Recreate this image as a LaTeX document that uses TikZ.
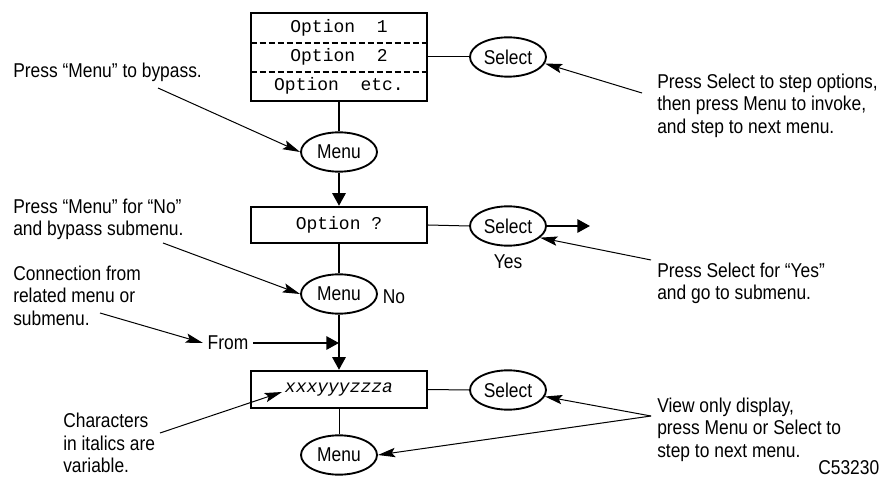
\documentclass[tikz,border=0pt]{standalone}
\usepackage{fontspec}
\setmainfont{Liberation Sans}[FakeStretch=0.87]
\newfontfamily\dispfont{Liberation Mono}
\usetikzlibrary{arrows.meta,shapes.geometric}

\begin{document}
\begin{tikzpicture}[x=0.75pt, y=-0.75pt,
  every node/.style={font=\fontsize{15}{16.8}\selectfont},
  optrow/.style={minimum width=132pt, minimum height=22pt, inner sep=0pt, font=\dispfont\fontsize{13.5}{16}\selectfont},
  dispbox/.style={draw, line width=1.8pt, minimum width=132pt, inner sep=0pt, font=\dispfont\fontsize{13.5}{16}\selectfont},
  keyoval/.style={draw, ellipse, line width=1.4pt, minimum width=57pt, minimum height=29.5pt, inner sep=0pt},
  note/.style={align=left, anchor=north west, inner sep=0pt},
  flow/.style={line width=1.5pt, -{Triangle[length=9.5pt,width=10pt]}},
  link/.style={line width=1.5pt},
  wire/.style={line width=0.75pt},
  callout/.style={line width=0.75pt, -{Stealth[length=13pt,width=7pt,inset=2.5pt]}}]
  \useasboundingbox (0,0) rectangle (885,477);

  % option list display
  \node[optrow] (opt1) at (339,27.7) {Option\ \ 1};
  \node[optrow] (opt2) at (339,57) {Option\ \ 2};
  \node[optrow] (opt3) at (339,86.3) {Option\ \ etc.};
  \draw[line width=1.8pt] (opt1.north west) rectangle (opt3.south east);
  \draw[line width=1.5pt, dash pattern=on 4.5pt off 2.25pt] (opt1.south west) -- (opt1.south east);
  \draw[line width=1.5pt, dash pattern=on 4.5pt off 2.25pt] (opt2.south west) -- (opt2.south east);

  % keys and displays
  \node[keyoval] (selA) at (508,57) {Select};
  \node[keyoval] (menuA) at (339,152) {Menu};
  \node[dispbox, minimum height=27pt] (optq) at (339,225) {Option ?};
  \node[keyoval] (selB) at (508,226) {Select};
  \node[keyoval] (menuB) at (339,294) {Menu};
  \node[dispbox, minimum height=27.75pt] (varbox) at (339,389.5) {\itshape xxxyyyzzza};
  \node[keyoval] (selC) at (508,390) {Select};
  \node[keyoval] (menuC) at (339,455) {Menu};

  % small labels
  \node (yes) at (508,262) {Yes};
  \node (no) at (394,296.5) {No};
  \node (from) at (228,343) {From};
  \node[anchor=base west, inner sep=0pt] (figId) at (818,474) {C53230};

  % notes
  \node[anchor=base west, inner sep=0pt] (bypassTxt) at (13,78) {Press “Menu” to bypass.};
  \node[note] (noTxt) at (13,198.5) {Press “Menu” for “No”\\and bypass submenu.};
  \node[note] (connTxt) at (13,265.5) {Connection from\\related menu or\\submenu.};
  \node[note] (charTxt) at (63,413) {Characters\\in italics are\\variable.};
  \node[note] (stepTxt) at (657,73.5) {Press Select to step options,\\then press Menu to invoke,\\and step to next menu.};
  \node[note] (yesTxt) at (657,262.5) {Press Select for “Yes”\\and go to submenu.};
  \node[note] (viewTxt) at (657,397.5) {View only display,\\press Menu or Select to\\step to next menu.};

  \coordinate (cBypass) at (158,88);
  \coordinate (cStep) at (642,93);
  \coordinate (cNo) at (163,243);
  \coordinate (cConn) at (100,313);
  \coordinate (cYes) at (651,260);
  \coordinate (cChar) at (160,433);
  \coordinate (cVar) at (282,392);
  \coordinate (cView) at (651,416);
  \coordinate (yesEnd) at (590,226);

  % flow
  \draw[wire] (opt2.east) -- (selA.west);
  \draw[link] (opt3.south) -- (menuA.north);
  \draw[flow] (menuA.south) -- (optq.north);
  \draw[wire] (optq.east) -- (selB.west);
  \draw[flow] (selB.east) -- (yesEnd);
  \draw[link] (optq.south) -- (menuB.north);
  \draw[flow] (menuB.south) -- (varbox.north);
  \draw[flow] (from.east) -- (from.east -| varbox.north);
  \draw[wire] (varbox.east) -- (selC.west);
  \draw[wire] (varbox.south) -- (menuC.north);

  % callouts
  \foreach \src/\dst in {cBypass/menuA.west, cStep/selA.-10, cNo/menuB.west, cConn/from.west,
      cYes/selB.-20, cChar/cVar, cView/selC.-10, cView/menuC.east}
    \draw[callout] (\src) -- (\dst);
\end{tikzpicture}
\end{document}
